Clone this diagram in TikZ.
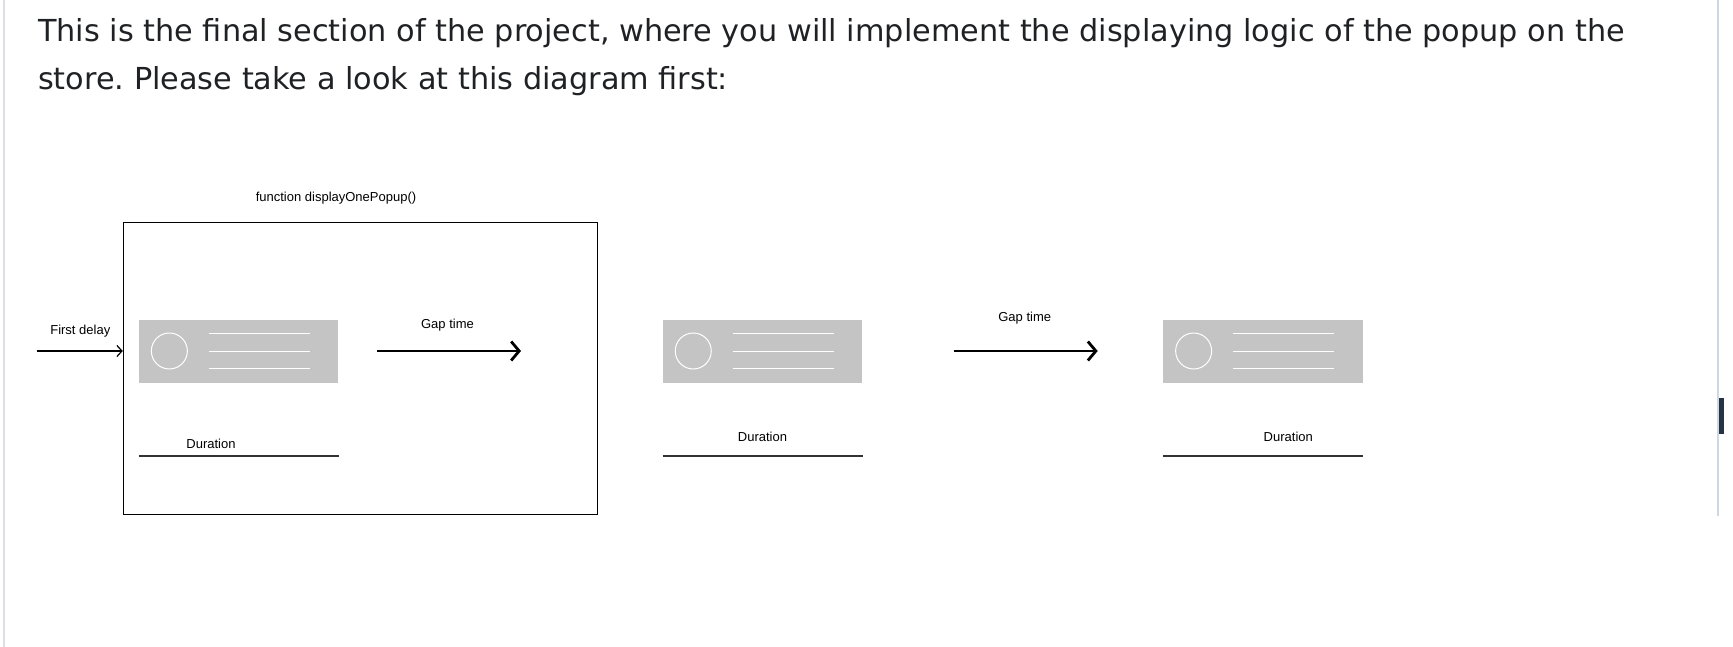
\documentclass[tikz,border=0pt]{standalone}
\usepackage{fontspec}
\usepackage{tikz}
\usetikzlibrary{arrows.meta,positioning}
\setmainfont{Liberation Sans}
\newfontfamily\headfont{DejaVu Sans}
\frenchspacing
\definecolor{popupgray}{RGB}{196,196,196}
\definecolor{headink}{RGB}{31,33,36}
\definecolor{pageedge}{RGB}{220,223,227}
\definecolor{scrolltrack}{RGB}{205,216,226}
\definecolor{scrollthumb}{RGB}{37,51,66}

\begin{document}
\begin{tikzpicture}[x=1pt, y=-1pt, node distance=324pt,
  popup/.style={rectangle, fill=popupgray, inner sep=0pt, minimum width=199.5pt, minimum height=63pt},
  lbl/.style={font=\fontsize{13}{15}\selectfont, inner sep=0pt},
  headline/.style={anchor=base west, inner sep=0pt, text=headink, font=\headfont\fontsize{30.3}{36}\selectfont},
  gaparrow/.style={line width=2.8pt, -{Straight Barb[length=8pt,width=19pt]}},
  delayarrow/.style={line width=1.2pt, -{Straight Barb[length=5pt,width=11pt]}},
  durline/.style={draw=black!80, line width=1.2pt}]
% Page
\useasboundingbox[fill=white] (0,0) rectangle (1733,647);
\draw[pageedge, line width=2pt] (3.7,0) -- (3.7,647);
\draw[scrolltrack, line width=2pt] (1717.7,0) -- (1717.7,516);
\fill[scrollthumb] (1719,398) rectangle (1723.5,434);

% Heading
\node[headline] (line1) at (38,41.7) {This is the final section of the project, where you will implement the displaying logic of the popup on the};
\node[headline] (line2) at (38,90) {store. Please take a look at this diagram first:};

% Nodes
\node[popup] (popup1) at (238.7,351) {};
\node[popup, right=324pt of popup1] (popup2) {};
\node[popup, right=300.5pt of popup2] (popup3) {};
\node[rectangle, draw, line width=1pt, minimum width=474.5pt, minimum height=291pt] (func) at (360.5,368.5) {};

\node[lbl] (funcname) at (336,198) {function displayOnePopup()};
\node[lbl] (firstdelay) at (80.3,331) {First delay};
\node[lbl] (gap1) at (447.5,325.5) {Gap time};
\node[lbl] (gap2) at (1024.7,317.7) {Gap time};
\node[lbl] (dur1) at (211,444.3) {Duration};
\node[lbl] (dur2) at (762.5,436.7) {Duration};
\node[lbl] (dur3) at (1288.3,436.7) {Duration};

% Popup contents
\foreach \p in {popup1,popup2,popup3} {
  \draw[white, line width=1pt] ([xshift=30.6pt]\p.west) circle (18pt);
  \foreach \dy in {-17.5,0,17.5}
    \draw[white, line width=1pt] ([xshift=70pt,yshift=\dy pt]\p.west) -- ([xshift=171pt,yshift=\dy pt]\p.west);
  \draw[durline] ([yshift=-73.3pt]\p.south west) -- ([yshift=-73.3pt]\p.south east);
}

% Arrows
\coordinate (delaystart) at (36.7,351);
\coordinate (gap1start) at (377,351);
\coordinate (gap1end) at (521,351);
\coordinate (gap2start) at (954,351);
\coordinate (gap2end) at (1097.7,351);
\draw[delayarrow] (delaystart) -- (func.west |- popup1);
\draw[gaparrow] (gap1start) -- (gap1end);
\draw[gaparrow] (gap2start) -- (gap2end);
\end{tikzpicture}
\end{document}
